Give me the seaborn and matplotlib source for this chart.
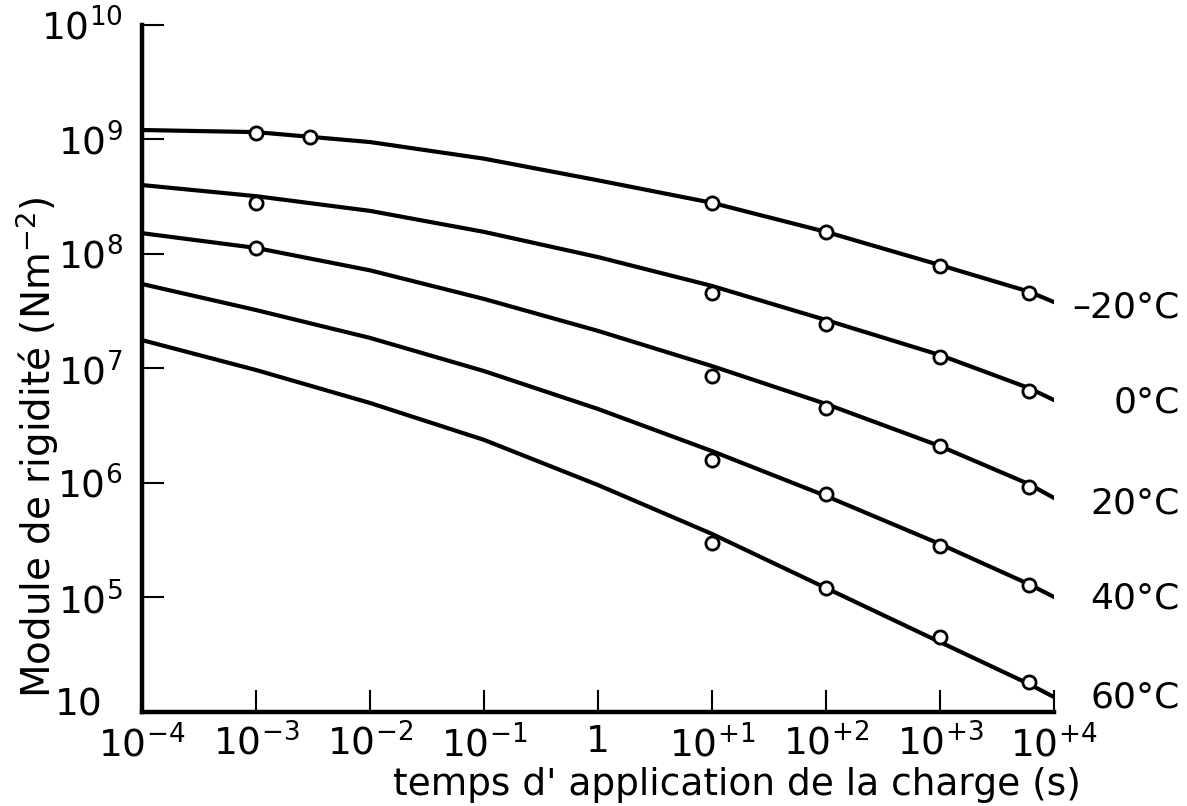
import numpy as np
import pandas as pd
import matplotlib
matplotlib.use("Agg")
import matplotlib.pyplot as plt
import matplotlib.transforms as mtransforms
import seaborn as sns

# ---------------- data ----------------
temperatures = ["–20°C", "0°C", "20°C", "40°C", "60°C"]

# smooth fitted curves, sampled along the time axis (s) -> modulus (N m^-2)
curve_times = [1e-4, 1e-3, 1e-2, 1e-1, 1, 1e1, 1e2, 1e3, 6e3, 1e4]
curve_m20 = [1.21e9, 1.16e9, 9.5e8, 6.8e8, 4.4e8, 2.8e8, 1.56e8, 8.0e7, 4.7e7, 3.8e7]
curve_0 = [4.0e8, 3.2e8, 2.38e8, 1.56e8, 9.4e7, 5.26e7, 2.65e7, 1.31e7, 6.76e6, 5.3e6]
curve_20 = [1.52e8, 1.13e8, 7.2e7, 4.05e7, 2.13e7, 1.05e7, 4.9e6, 2.1e6, 9.8e5, 7.4e5]
curve_40 = [5.47e7, 3.24e7, 1.85e7, 9.5e6, 4.43e6, 1.9e6, 7.7e5, 2.93e5, 1.31e5, 1.01e5]
curve_60 = [1.77e7, 9.7e6, 5.0e6, 2.38e6, 9.6e5, 3.59e5, 1.21e5, 4.08e4, 1.76e4, 1.35e4]

# measured points (open circles)
pts_t_m20 = [1e-3, 3e-3, 10, 100, 1000, 6000]
pts_E_m20 = [1.14e9, 1.05e9, 2.8e8, 1.56e8, 7.85e7, 4.56e7]
pts_t_0 = [1e-3, 10, 100, 1000, 6000]
pts_E_0 = [2.8e8, 4.56e7, 2.45e7, 1.26e7, 6.4e6]
pts_t_20 = [1e-3, 10, 100, 1000, 6000]
pts_E_20 = [1.13e8, 8.6e6, 4.5e6, 2.1e6, 9.2e5]
pts_t_40 = [10, 100, 1000, 6000]
pts_E_40 = [1.59e6, 8.0e5, 2.82e5, 1.29e5]
pts_t_60 = [10, 100, 1000, 6000]
pts_E_60 = [3.0e5, 1.21e5, 4.5e4, 1.83e4]

x_ticks = [1e-4, 1e-3, 1e-2, 1e-1, 1, 1e1, 1e2, 1e3, 1e4]
x_ticklabels = [r"$10^{-4}$", r"$10^{-3}$", r"$10^{-2}$", r"$10^{-1}$", "1",
                r"$10^{+1}$", r"$10^{+2}$", r"$10^{+3}$", r"$10^{+4}$"]
y_ticks = [1e4, 1e5, 1e6, 1e7, 1e8, 1e9, 1e10]
y_ticklabels = ["10", r"$10^{5}$", r"$10^{6}$", r"$10^{7}$", r"$10^{8}$",
                r"$10^{9}$", r"$10^{10}$"]

# ---------------- tidy frames ----------------
curves = [curve_m20, curve_0, curve_20, curve_40, curve_60]
pts_t = [pts_t_m20, pts_t_0, pts_t_20, pts_t_40, pts_t_60]
pts_E = [pts_E_m20, pts_E_0, pts_E_20, pts_E_40, pts_E_60]

df_lines = pd.concat(
    [pd.DataFrame({"t": curve_times, "E": c, "T": T}) for c, T in zip(curves, temperatures)],
    ignore_index=True)
df_pts = pd.concat(
    [pd.DataFrame({"t": t, "E": e, "T": T}) for t, e, T in zip(pts_t, pts_E, temperatures)],
    ignore_index=True)

# ---------------- style ----------------
sns.set_theme(style="ticks")
plt.rcParams["font.family"] = ["DejaVu Sans"]
plt.rcParams["mathtext.fontset"] = "dejavusans"

fig = plt.figure(figsize=(11.87, 8.06), dpi=100)
ax = fig.add_axes([0.11963, 0.11663, 0.76833, 0.85236])

black5 = ["black"] * len(temperatures)
sns.lineplot(data=df_lines, x="t", y="E", hue="T", palette=black5, legend=False,
             estimator=None, sort=False, linewidth=3.0, ax=ax, zorder=2)
sns.scatterplot(data=df_pts, x="t", y="E", hue="T", palette=black5, legend=False,
                s=90, marker="o", linewidth=2.0, ax=ax, zorder=3)
for coll in ax.collections:
    coll.set_facecolor("white")
    coll.set_edgecolor("black")

ax.set_xscale("log")
ax.set_yscale("log")
ax.set_xlim(1e-4, 1e4)
ax.set_ylim(1e4, 1e10)
ax.set_xticks(x_ticks)
ax.set_xticklabels(x_ticklabels)
ax.set_yticks(y_ticks)
ax.set_yticklabels(y_ticklabels)
ax.minorticks_off()

for s in ["top", "right"]:
    ax.spines[s].set_visible(False)
for s in ["left", "bottom"]:
    ax.spines[s].set_linewidth(3.2)
    ax.spines[s].set_color("black")
    ax.spines[s].set_capstyle("projecting")

ax.tick_params(axis="both", direction="in", length=16, width=1.5, color="black",
               labelsize=27, labelcolor="black")
ax.tick_params(axis="x", pad=9)
ax.tick_params(axis="y", pad=14)

# the bottom "10" label sits a little higher and further left in the reference
bottom_lbl = ax.get_yticklabels()[0]
bottom_lbl.set_transform(bottom_lbl.get_transform() +
                         mtransforms.ScaledTranslation(-0.2, 0.1, fig.dpi_scale_trans))

ax.set_xlabel("temps d' application de la charge (s)", fontsize=27, color="black")
ax.set_ylabel("Module de rigidité (Nm$^{-2}$)", fontsize=28, color="black")
ax.xaxis.set_label_coords(0.652, -0.106)
ax.xaxis.label.set_va("center")
ax.yaxis.set_label_coords(-0.115, 0.386)
ax.yaxis.label.set_va("center")

label_y_axes = [0.5895, 0.451, 0.304, 0.1645, 0.0218]
for T, yy in zip(temperatures, label_y_axes):
    ax.text(1.138, yy, T, transform=ax.transAxes, ha="right", va="center",
            fontsize=26, color="black", clip_on=False)

ax.set_facecolor("white")
fig.patch.set_facecolor("white")
fig.savefig("out.png", dpi=100, facecolor="white")
